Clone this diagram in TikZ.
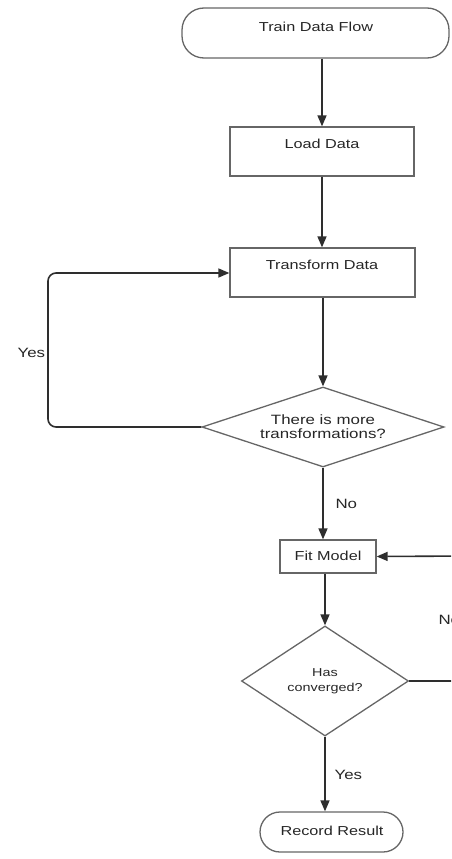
\documentclass[tikz,border=0pt]{standalone}
\usepackage{fontspec}
\setmainfont[FakeStretch=1.25]{Liberation Sans}
\usetikzlibrary{shapes.geometric,arrows.meta}
\definecolor{edgec}{HTML}{2E2E2E}
\definecolor{boxc}{HTML}{666666}
\definecolor{txtc}{HTML}{262626}
\begin{document}
\begin{tikzpicture}[x=1pt,y=1pt,
  every node/.style={text=txtc},
  boxtext/.style={font=\fontsize{13}{15}\selectfont},
  dtext/.style={font=\fontsize{13.5}{14}\selectfont,align=center},
  dtextsmall/.style={font=\fontsize{11.5}{15}\selectfont,align=center},
  lbl/.style={font=\fontsize{13.5}{15}\selectfont},
  procbox/.style={draw=boxc,line width=1.3pt,rectangle,inner sep=0pt},
  pill/.style={draw=boxc,line width=1.3pt,rectangle,rounded corners=20pt,inner sep=0pt},
  decision/.style={draw=boxc,line width=1.3pt,diamond,shape aspect=3,inner sep=0pt},
  flow/.style={draw=edgec,line width=1.6pt,-{Triangle[length=11pt,width=9pt]}},
  plain/.style={draw=edgec,line width=1.6pt}]
\useasboundingbox (0,0) rectangle (451,-859);
\clip (0,0) rectangle (451,-859);
% shapes
\node[pill,rounded corners=22pt,minimum width=267pt,minimum height=50pt] (start) at (315.5,-33) {};
\node[boxtext] (startt) at (316,-27) {Train Data Flow};
\node[procbox,minimum width=184pt,minimum height=49pt] (load) at (322,-151.5) {};
\node[boxtext] (loadt) at (322,-144) {Load Data};
\node[procbox,minimum width=185pt,minimum height=49pt] (trans) at (322.5,-272.5) {};
\node[boxtext] (transt) at (322,-265) {Transform Data};
\node[decision,minimum width=242pt,minimum height=80pt] (d1) at (323,-427) {};
\node[dtext] (d1t) at (323,-427) {There is more\\transformations?};
\node[procbox,minimum width=96pt,minimum height=33pt] (fit) at (328,-556.5) {};
\node[boxtext] (fitt) at (328,-556) {Fit Model};
\node[decision,minimum width=167pt,minimum height=110pt] (d2) at (325,-681) {};
\node[dtextsmall] (d2t) at (325,-681) {Has\\converged?};
\node[pill,minimum width=143pt,minimum height=40pt] (rec) at (331.5,-832) {};
\node[boxtext] (rect) at (332,-831) {Record Result};
% connectors
\draw[flow] (load.north |- start.south) -- (load.north);
\draw[flow] (load.south) -- (load.south |- trans.north);
\draw[flow] (d1.north |- trans.south) -- (d1.north);
\draw[flow,rounded corners=8pt] (d1.west) -- (48,-427) -- (48,-273) -- (trans.west |- 0,-273);
\draw[flow] (d1.south) -- (d1.south |- fit.north);
\draw[flow] (d2.north |- fit.south) -- (d2.north);
\draw[flow] (d2.south) -- (d2.south |- rec.north);
\draw[plain] (d2.east) -- (470,-681) -- (470,-556);
\draw[flow] (470,-556) -- (fit.east);
% labels
\node[lbl,anchor=west] (yes1) at (14,-353) {Yes};
\node[lbl,anchor=west] (no1) at (332,-504) {No};
\node[lbl,anchor=west] (no2) at (435,-620) {No};
\node[lbl,anchor=west] (yes2) at (331,-775) {Yes};
\end{tikzpicture}
\end{document}
